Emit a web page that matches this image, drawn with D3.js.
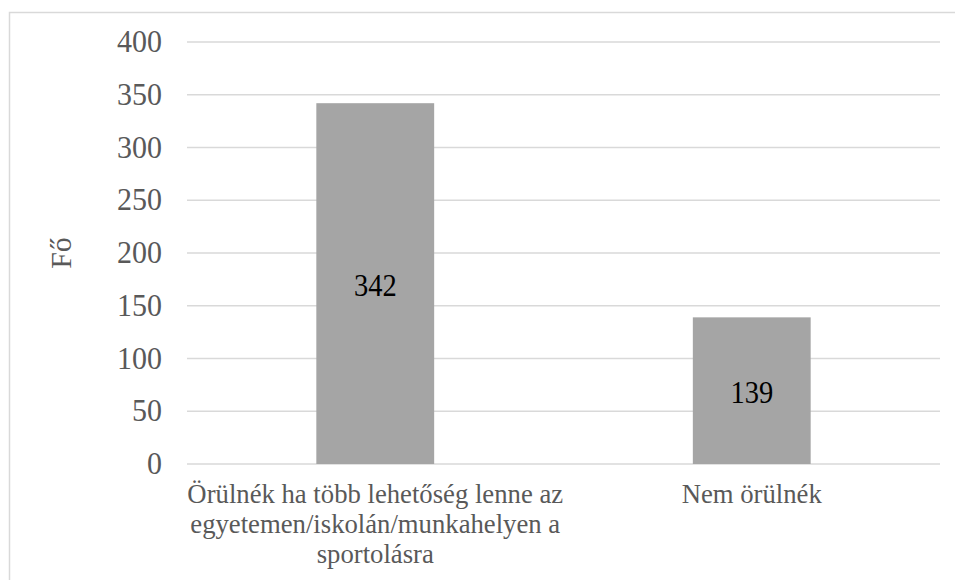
<!DOCTYPE html>
<html>
<head>
<meta charset="utf-8">
<script src="https://cdn.jsdelivr.net/npm/d3@7"></script>
<style>
  html, body { margin: 0; padding: 0; background: #fff; overflow: hidden; }
</style>
</head>
<body>
<svg id="chart" width="955" height="580" style="font-family: 'Liberation Serif', 'Times New Roman', serif;"></svg>
<script>
const categories = [
  ["Örülnék ha több lehetőség lenne az", "egyetemen/iskolán/munkahelyen a", "sportolásra"],
  ["Nem örülnék"]
];
const values = [342, 139];
const yTicks = [0, 50, 100, 150, 200, 250, 300, 350, 400];
const yTitle = "Fő";

const W = 955, H = 580;
const plot = { left: 187, right: 940, top: 42, bottom: 464 };
const FONT = "'Liberation Serif', 'Times New Roman', serif";

const svg = d3.select("#chart");

// outer chart border
svg.append("rect")
  .attr("x", 9.5).attr("y", 12.5)
  .attr("width", W).attr("height", H)
  .attr("fill", "none").attr("stroke", "#d9d9d9").attr("stroke-width", 1.5);

const x = d3.scaleBand()
  .domain(d3.range(categories.length))
  .range([plot.left, plot.right])
  .paddingInner(0.687)
  .paddingOuter(0.3435);

const y = d3.scaleLinear().domain([0, 400]).range([plot.bottom, plot.top]);

// gridlines
svg.append("g").selectAll("line")
  .data(yTicks)
  .join("line")
  .attr("x1", plot.left).attr("x2", plot.right)
  .attr("y1", d => y(d)).attr("y2", d => y(d))
  .attr("stroke", "#d9d9d9").attr("stroke-width", 1.4);

// y tick labels
svg.append("g").selectAll("text")
  .data(yTicks)
  .join("text")
  .attr("transform", d => `translate(162, ${y(d) + 10}) scale(1, 1.05)`)
  .attr("text-anchor", "end")
  .attr("font-size", 30)
  .style("font-family", FONT)
  .attr("fill", "#595959")
  .text(d => d);

// bars
svg.append("g").selectAll("rect")
  .data(values)
  .join("rect")
  .attr("x", (d, i) => x(i))
  .attr("width", x.bandwidth())
  .attr("y", d => y(d))
  .attr("height", d => y(0) - y(d))
  .attr("fill", "#a5a5a5");

// data labels
svg.append("g").selectAll("text")
  .data(values)
  .join("text")
  .attr("transform", (d, i) => `translate(${x(i) + x.bandwidth() / 2}, ${(y(d) + y(0)) / 2 + 12.5}) scale(1, 1.08)`)
  .attr("text-anchor", "middle")
  .attr("font-size", 28.5)
  .style("font-family", FONT)
  .attr("fill", "#000")
  .text(d => d);

// category labels
const cat = svg.append("g").selectAll("g")
  .data(categories)
  .join("g");
cat.each(function (lines, i) {
  const g = d3.select(this);
  lines.forEach((ln, j) => {
    g.append("text")
      .attr("transform", `translate(${x(i) + x.bandwidth() / 2}, ${503 + j * 30}) scale(1, 1.03)`)
      .attr("text-anchor", "middle")
      .attr("font-size", 26.7)
      .style("font-family", FONT)
      .attr("fill", "#595959")
      .text(ln);
  });
});

// y axis title
svg.append("text")
  .attr("transform", `translate(71, ${(plot.top + plot.bottom) / 2}) rotate(-90)`)
  .attr("text-anchor", "middle")
  .attr("font-size", 30)
  .style("font-family", FONT)
  .attr("fill", "#595959")
  .text(yTitle);
</script>
</body>
</html>
